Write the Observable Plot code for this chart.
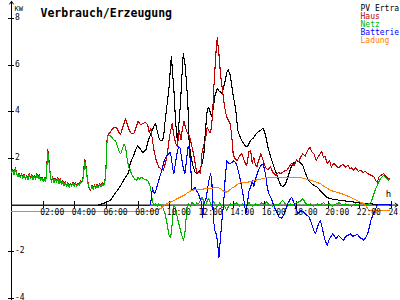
<!DOCTYPE html>
<html><head><meta charset="utf-8">
<script src="https://cdn.jsdelivr.net/npm/d3@7"></script>
<script src="https://cdn.jsdelivr.net/npm/@observablehq/plot@0.6"></script>
<style>html,body{margin:0;padding:0;background:#fff}svg{display:block}</style>
</head><body><div id="chart"></div>
<script>
const title = "Verbrauch/Erzeugung";
const unitLabel = "KW";
const hourLabel = "h";
const seriesNames = ["PV Ertra", "Haus", "Netz", "Batterie", "Ladung"];
const seriesColors = ["#000000", "#c00000", "#00b400", "#0000ff", "#ff8000"];
const yTicks = [8, 6, 4, 2, -2, -4];
const xTicks = [2, 4, 6, 8, 10, 12, 14, 16, 18, 20, 22, 24];
const xTickLabels = ["02:00","04:00","06:00","08:00","10:00","12:00","14:00","16:00","18:00","20:00","22:00","24:00"];

const pv = [[0,0],[5.5,0],[5.8,0.07],[6.0,0.12],[6.25,0.2],[6.5,0.45],[6.68,0.63],[6.9,0.85],[7.08,1.06],[7.25,1.25],[7.4,1.4],[7.5,1.8],[7.7,2.1],[7.85,2.4],[7.96,2.55],[8.1,2.45],[8.3,2.25],[8.5,2.4],[8.65,2.8],[8.8,3.07],[9.0,3.4],[9.1,3.5],[9.2,3.2],[9.35,2.8],[9.5,2.75],[9.6,2.9],[9.7,3.6],[9.83,4.35],[9.95,5.06],[10.03,5.8],[10.1,6.4],[10.18,5.6],[10.25,5.06],[10.36,3.6],[10.47,2.77],[10.55,3.3],[10.67,4.35],[10.75,5.4],[10.85,6.5],[10.95,6.1],[11.05,5.3],[11.14,4.35],[11.2,2.9],[11.3,2.2],[11.45,1.7],[11.6,1.4],[11.75,1.35],[11.9,1.5],[12.05,1.8],[12.15,2.2],[12.25,3.2],[12.36,4.06],[12.45,4.2],[12.55,4.0],[12.65,3.8],[12.75,4.2],[12.85,4.7],[13.0,5.0],[13.1,4.9],[13.2,4.85],[13.3,4.8],[13.45,5.2],[13.6,5.7],[13.7,5.8],[13.8,5.6],[13.9,5.2],[14.0,4.7],[14.15,4.15],[14.3,3.2],[14.45,2.9],[14.6,2.7],[14.75,2.55],[14.9,2.5],[15.1,2.77],[15.3,2.9],[15.5,3.1],[15.7,3.2],[15.9,3.3],[16.05,3.0],[16.2,2.47],[16.4,2.0],[16.6,1.6],[16.8,1.2],[17.0,0.85],[17.15,0.8],[17.3,0.9],[17.5,1.3],[17.65,1.6],[17.8,1.8],[18.0,1.9],[18.2,1.85],[18.4,1.7],[18.55,1.4],[18.7,1.15],[18.9,0.95],[19.1,0.85],[19.3,0.77],[19.6,0.55],[19.9,0.33],[20.3,0.25],[20.8,0.2],[21.4,0.15],[22.0,0.1],[22.7,0.05],[23.3,0.02],[24,0]];

const haus = [[0.00,1.45],[0.08,1.52],[0.16,1.34],[0.24,1.60],[0.32,1.38],[0.40,1.26],[0.48,1.36],[0.56,1.22],[0.64,1.34],[0.72,1.18],[0.80,1.32],[0.88,1.15],[0.96,1.28],[1.04,1.14],[1.12,1.34],[1.20,1.18],[1.28,1.30],[1.36,1.12],[1.44,1.26],[1.52,1.16],[1.60,1.34],[1.68,1.19],[1.76,1.29],[1.84,1.09],[1.92,1.19],[2.00,1.06],[2.08,1.16],[2.16,1.04],[2.22,1.50],[2.28,2.40],[2.34,2.15],[2.40,1.66],[2.46,1.24],[2.52,1.02],[2.60,1.22],[2.68,0.99],[2.76,1.16],[2.84,1.02],[2.92,1.18],[3.00,0.96],[3.08,1.12],[3.16,0.92],[3.24,1.06],[3.32,0.88],[3.40,1.00],[3.48,0.84],[3.56,0.96],[3.64,0.80],[3.72,0.94],[3.80,0.86],[3.88,0.99],[3.96,0.84],[4.04,0.96],[4.12,0.82],[4.20,0.94],[4.28,0.88],[4.36,1.04],[4.44,0.99],[4.52,1.20],[4.58,1.65],[4.64,1.95],[4.70,1.70],[4.76,1.30],[4.84,0.94],[4.92,0.66],[5.00,0.62],[5.08,0.84],[5.16,0.72],[5.24,0.86],[5.32,0.74],[5.40,0.88],[5.48,0.78],[5.56,0.92],[5.64,0.82],[5.72,0.96],[5.80,0.86],[5.88,0.99],[5.95,1.30],[6.02,2.7],[6.08,3.0],[6.2,3.1],[6.35,3.25],[6.5,3.35],[6.65,3.3],[6.8,3.1],[6.9,3.05],[7.05,3.4],[7.2,3.7],[7.3,3.5],[7.45,3.2],[7.6,3.05],[7.75,3.1],[7.9,3.4],[8.0,3.6],[8.15,3.45],[8.3,3.5],[8.45,3.55],[8.6,3.45],[8.7,3.1],[8.8,3.3],[8.9,2.8],[9.0,2.35],[9.15,1.9],[9.3,1.63],[9.45,1.55],[9.6,1.5],[9.75,1.9],[9.85,2.2],[9.95,2.8],[10.05,3.2],[10.15,3.5],[10.25,3.0],[10.35,2.7],[10.47,2.5],[10.55,3.0],[10.6,3.2],[10.7,2.8],[10.8,3.3],[10.9,3.6],[11.0,3.3],[11.1,3.1],[11.2,3.0],[11.3,2.8],[11.4,2.5],[11.5,2.2],[11.6,1.8],[11.7,1.4],[11.85,1.4],[11.94,1.35],[12.02,2.2],[12.15,2.6],[12.25,2.8],[12.36,3.34],[12.45,3.2],[12.55,3.1],[12.62,3.3],[12.7,3.9],[12.78,5.06],[12.88,6.2],[12.95,6.9],[13.0,7.2],[13.05,6.8],[13.1,6.5],[13.2,5.6],[13.3,5.06],[13.4,4.5],[13.5,4.06],[13.6,3.77],[13.7,3.63],[13.8,3.5],[13.9,3.07],[14.0,2.2],[14.1,2.0],[14.25,1.9],[14.4,2.1],[14.55,2.2],[14.7,1.9],[14.85,1.7],[15.0,2.3],[15.1,2.34],[15.2,1.8],[15.3,2.05],[15.4,1.75],[15.5,1.63],[15.6,1.9],[15.75,2.2],[15.9,1.9],[16.05,1.6],[16.2,1.5],[16.35,1.65],[16.5,1.4],[16.7,1.27],[16.85,1.4],[17.0,1.35],[17.2,1.45],[17.4,1.5],[17.55,1.65],[17.7,1.8],[17.85,1.7],[18.0,1.95],[18.15,1.85],[18.25,2.05],[18.4,2.2],[18.55,2.1],[18.7,2.34],[18.85,2.5],[18.95,2.3],[19.1,2.2],[19.25,1.9],[19.35,2.05],[19.5,2.2],[19.6,2.3],[19.7,2.05],[19.8,2.1],[19.94,1.8],[20.1,1.9],[20.2,1.63],[20.35,1.8],[20.5,1.7],[20.65,1.6],[20.8,1.7],[20.95,1.75],[21.1,1.63],[21.25,1.7],[21.4,1.55],[21.5,1.6],[21.6,1.5],[21.75,1.6],[21.9,1.45],[22.05,1.5],[22.2,1.4],[22.35,1.45],[22.5,1.35],[22.65,1.3],[22.8,1.25],[22.9,1.2],[23.0,1.05],[23.1,0.98],[23.2,1.2],[23.3,1.27],[23.4,1.3],[23.5,1.35],[23.6,1.25],[23.7,1.2],[23.8,1.14],[23.85,1.15]];

const netz = [[0.00,1.40],[0.08,1.48],[0.16,1.30],[0.24,1.55],[0.32,1.35],[0.40,1.22],[0.48,1.32],[0.56,1.18],[0.64,1.30],[0.72,1.15],[0.80,1.28],[0.88,1.12],[0.96,1.24],[1.04,1.10],[1.12,1.30],[1.20,1.14],[1.28,1.26],[1.36,1.08],[1.44,1.22],[1.52,1.12],[1.60,1.30],[1.68,1.15],[1.76,1.25],[1.84,1.05],[1.92,1.15],[2.00,1.02],[2.08,1.12],[2.16,1.00],[2.22,1.45],[2.28,2.30],[2.34,2.05],[2.40,1.60],[2.46,1.20],[2.52,0.98],[2.60,1.18],[2.68,0.95],[2.76,1.12],[2.84,0.98],[2.92,1.14],[3.00,0.92],[3.08,1.08],[3.16,0.88],[3.24,1.02],[3.32,0.84],[3.40,0.96],[3.48,0.80],[3.56,0.92],[3.64,0.76],[3.72,0.90],[3.80,0.82],[3.88,0.95],[3.96,0.80],[4.04,0.92],[4.12,0.78],[4.20,0.90],[4.28,0.84],[4.36,1.00],[4.44,0.95],[4.52,1.15],[4.58,1.55],[4.64,1.85],[4.70,1.60],[4.76,1.25],[4.84,0.90],[4.92,0.72],[5.00,0.66],[5.08,0.80],[5.16,0.68],[5.24,0.82],[5.32,0.70],[5.40,0.84],[5.48,0.74],[5.56,0.88],[5.64,0.78],[5.72,0.92],[5.80,0.82],[5.88,0.95],[5.95,1.25],[6.02,2.6],[6.08,2.95],[6.15,3.0],[6.3,2.95],[6.45,2.8],[6.57,2.77],[6.7,2.5],[6.8,2.3],[6.9,2.2],[7.0,2.4],[7.1,2.6],[7.2,2.5],[7.3,2.0],[7.4,1.63],[7.5,1.5],[7.6,1.3],[7.7,1.2],[7.8,1.1],[7.9,1.06],[8.0,1.2],[8.1,1.1],[8.2,1.2],[8.3,1.14],[8.45,1.1],[8.6,1.06],[8.7,0.9],[8.78,0.77],[8.85,0.4],[8.9,0.15],[9.0,0.0],[9.1,0.05],[9.2,-0.05],[9.3,0.05],[9.45,0.0],[9.55,-0.1],[9.7,-0.37],[9.85,-0.9],[9.95,-1.3],[10.05,-1.4],[10.15,-0.8],[10.25,0.0],[10.35,-0.1],[10.47,-0.52],[10.6,-0.9],[10.75,-1.3],[10.87,-1.52],[10.95,-1.2],[11.05,-0.4],[11.1,0.0],[11.2,0.05],[11.3,-0.05],[11.4,0.1],[11.5,0.05],[11.6,0.0],[11.7,0.1],[11.8,0.05],[11.94,0.2],[12.05,0.34],[12.15,0.1],[12.25,0.0],[12.35,0.15],[12.45,0.3],[12.55,0.1],[12.65,-0.05],[12.75,0.15],[12.85,0.05],[12.95,-0.1],[13.05,0.0],[13.15,0.1],[13.3,-0.1],[13.45,-0.05],[13.6,-0.23],[13.7,-0.05],[13.85,0.05],[14.0,0.0],[14.2,0.1],[14.4,-0.05],[14.6,0.05],[14.8,0.0],[15.0,0.1],[15.2,-0.05],[15.4,0.05],[15.6,0.0],[15.8,0.1],[16.0,0.0],[16.1,0.15],[16.3,0.0],[16.5,-0.05],[16.7,0.05],[16.9,0.0],[17.1,0.2],[17.25,0.1],[17.4,-0.05],[17.6,0.05],[17.8,0.0],[18.0,0.1],[18.2,0.15],[18.4,0.28],[18.55,0.1],[18.7,0.0],[18.9,0.05],[19.1,-0.05],[19.3,0.05],[19.5,0.0],[19.7,0.1],[19.9,0.0],[20.1,0.05],[20.3,-0.05],[20.5,0.05],[20.7,0.1],[20.9,0.0],[21.1,0.05],[21.3,0.0],[21.5,-0.05],[21.7,0.05],[21.9,0.0],[22.1,0.08],[22.3,0.0],[22.45,0.02],[22.55,0.05],[22.7,0.12],[22.8,0.3],[22.9,0.5],[23.0,0.7],[23.1,0.84],[23.2,1.0],[23.3,1.13],[23.4,1.2],[23.5,1.27],[23.6,1.2],[23.7,1.14],[23.8,1.06],[23.85,1.1]];

const batterie = [[0,0],[8.75,0],[8.8,0.1],[8.9,0.77],[8.95,0.6],[9.05,0.5],[9.15,0.7],[9.3,1.06],[9.4,1.3],[9.5,1.5],[9.6,1.8],[9.73,2.05],[9.85,2.15],[9.94,2.2],[10.04,2.27],[10.12,1.9],[10.2,1.5],[10.25,1.35],[10.35,1.78],[10.45,2.2],[10.55,2.5],[10.65,2.45],[10.75,2.0],[10.85,1.6],[10.95,1.35],[11.05,1.9],[11.15,2.5],[11.2,2.5],[11.3,1.9],[11.4,0.63],[11.5,0.7],[11.6,0.77],[11.7,0.6],[11.8,0.5],[11.9,0.3],[12.0,0.12],[12.08,-0.52],[12.15,0.07],[12.3,0.3],[12.45,1.0],[12.57,1.35],[12.65,1.06],[12.76,-0.66],[12.85,-1.1],[12.92,-1.23],[13.0,-1.52],[13.1,-2.24],[13.2,-1.38],[13.3,-0.6],[13.4,0.07],[13.5,1.2],[13.6,1.9],[13.7,1.8],[13.8,1.78],[13.95,1.85],[14.05,1.9],[14.2,1.78],[14.35,1.4],[14.5,0.92],[14.65,0.34],[14.8,-0.37],[14.9,0.1],[15.0,0.6],[15.1,0.77],[15.2,1.06],[15.3,0.8],[15.45,1.2],[15.6,1.5],[15.75,1.7],[15.9,1.78],[16.05,1.3],[16.15,0.77],[16.25,0.5],[16.4,0.3],[16.6,-0.09],[16.75,-0.3],[16.9,-0.52],[17.05,-0.57],[17.2,-0.4],[17.3,-0.23],[17.45,0.07],[17.6,0.25],[17.7,0.34],[17.85,0.07],[18.0,-0.2],[18.1,-0.37],[18.25,-0.23],[18.45,-0.3],[18.6,-0.4],[18.8,-0.52],[18.95,-0.8],[19.1,-1.1],[19.2,-1.23],[19.3,-1.0],[19.4,-0.8],[19.5,-0.66],[19.6,-0.9],[19.7,-1.23],[19.8,-1.5],[19.94,-1.73],[20.05,-1.5],[20.15,-1.38],[20.3,-1.23],[20.4,-1.35],[20.5,-1.45],[20.65,-1.3],[20.8,-1.4],[20.97,-1.52],[21.1,-1.35],[21.25,-1.3],[21.4,-1.23],[21.55,-1.35],[21.7,-1.3],[21.85,-1.25],[22.0,-1.4],[22.15,-1.45],[22.25,-1.52],[22.4,-1.35],[22.5,-1.23],[22.6,-0.95],[22.7,-0.66],[22.85,-0.4],[23.0,-0.15],[23.1,0.0],[23.3,0.02],[24,0]];

const ladung = [[0,-0.26],[8.7,-0.26],[9.0,-0.24],[9.2,-0.2],[9.4,-0.16],[9.6,-0.05],[9.83,0.07],[10.1,0.15],[10.3,0.2],[10.47,0.28],[10.7,0.35],[10.87,0.41],[11.1,0.52],[11.3,0.6],[11.5,0.65],[11.7,0.68],[12.0,0.68],[12.3,0.7],[12.57,0.7],[12.8,0.75],[13.0,0.77],[13.2,0.7],[13.4,0.6],[13.55,0.55],[13.7,0.6],[13.9,0.72],[14.05,0.77],[14.3,0.9],[14.5,0.98],[14.8,0.98],[15.1,1.0],[15.5,1.08],[15.9,1.14],[16.2,1.2],[16.8,1.2],[17.2,1.2],[17.8,1.2],[18.25,1.18],[18.6,1.12],[18.9,1.06],[19.2,1.0],[19.5,0.92],[19.8,0.78],[20.15,0.63],[20.5,0.56],[20.8,0.5],[21.1,0.42],[21.4,0.34],[21.6,0.27],[21.8,0.2],[22.05,0.12],[22.25,0.07],[22.4,-0.05],[22.5,-0.16],[22.6,-0.22],[22.8,-0.23],[23.85,-0.23]];

const series = [pv, haus, netz, batterie, ladung];
const axisLines = [{x1:0, y1:-4.3, x2:0, y2:8.75}, {x1:0, y1:0, x2:24.4, y2:0}];

const font = "'DejaVu Sans Mono', 'Liberation Mono', monospace";
const marks = [
  Plot.arrow(axisLines, {x1:"x1", y1:"y1", x2:"x2", y2:"y2", stroke:"#000", strokeWidth:1, headLength:5, headAngle:70}),
  Plot.ruleY(yTicks, {y:d=>d, x1:0, x2:0, insetLeft:-3, insetRight:-3, stroke:"#000", shapeRendering:"crispEdges"}),
  Plot.ruleX(xTicks, {x:d=>d, y1:0, y2:0, insetTop:-3.5, insetBottom:-3.5, stroke:"#000", shapeRendering:"crispEdges"}),
  ...series.map((s, i) => Plot.line(s, {stroke: seriesColors[i], strokeWidth:1.1, curve:"linear", shapeRendering:"crispEdges"})),
  Plot.text(yTicks, {x:0, y:d=>d, text:d=>String(d), textAnchor:"start", dx:3.5, dy:-1, fontSize:8, fill:"#000"}),
  Plot.text(xTicks, {x:d=>d, y:0, text:(d,i)=>xTickLabels[i], textAnchor:"start", dx:-3, dy:7, fontSize:8, fill:"#000"}),
  Plot.text([hourLabel], {x:24, y:0, text:d=>d, dx:-3, dy:-11, fontSize:9, fill:"#000"}),
  Plot.text([unitLabel], {frameAnchor:"top-left", text:d=>d, textAnchor:"start", dx:14, dy:5.5, fontSize:7, fill:"#000"}),
  Plot.text([title], {frameAnchor:"top-left", text:d=>d, textAnchor:"start", dx:40, dy:8, fontSize:11.5, fontWeight:"bold", fill:"#000"}),
  ...seriesNames.map((n, i) => Plot.text([n], {frameAnchor:"top-left", text:d=>d, textAnchor:"start", dx:360, dy:4.7 + 8*i, fontSize:8, fill: seriesColors[i]}))
];

const chart = Plot.plot({
  width: 400, height: 300, margin: 0,
  x: {domain:[0,24], range:[11,391], axis:null},
  y: {domain:[-4,8], range:[297.7,18.3], axis:null},
  style: {fontFamily: font, background:"#fff", overflow:"hidden"},
  marks
});
document.getElementById("chart").appendChild(chart);
</script></body></html>
